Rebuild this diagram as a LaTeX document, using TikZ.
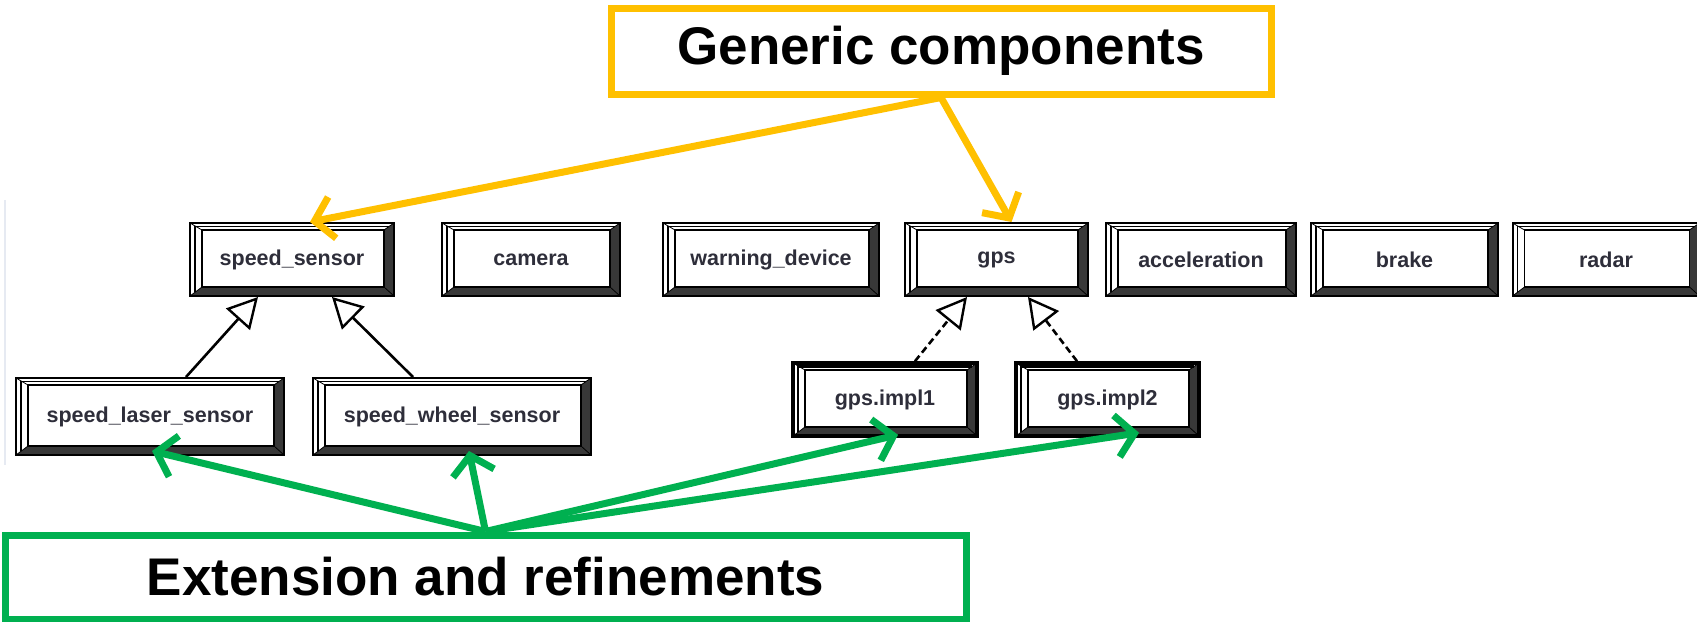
\documentclass[tikz,border=0pt]{standalone}
\usepackage{fontspec}
\setmainfont{Liberation Sans}
\usetikzlibrary{arrows.meta,calc}
\definecolor{ylw}{HTML}{FFC000}
\definecolor{grn}{HTML}{00B050}
\definecolor{bevdark}{HTML}{383838}
\definecolor{lbltext}{HTML}{2E2E3A}
\definecolor{framegray}{HTML}{E6EAF2}
\tikzset{
  bevel/.style={path picture={
      \coordinate (ppa) at (path picture bounding box.north west);
      \coordinate (ppb) at (path picture bounding box.south east);
      \fill[bevdark] (ppb) -- (ppb |- ppa) -- ($(ppb |- ppa)+(-10pt,-7pt)$) -- ($(ppb)+(-10pt,9pt)$) -- ($(ppa |- ppb)+(12pt,9pt)$) -- (ppa |- ppb) -- cycle;
      \draw[line width=#1*0.8] ($(ppa |- ppb)+(5pt,4pt)$) -- ($(ppa)+(5pt,-3.5pt)$) -- ($(ppb |- ppa)+(-5pt,-3.5pt)$);
      \draw[line width=0.8pt] (ppa) -- ($(ppa)+(12pt,-7pt)$) (ppb) -- ($(ppb)+(-10pt,9pt)$) (ppb |- ppa) -- ($(ppb |- ppa)+(-10pt,-7pt)$) (ppa |- ppb) -- ($(ppa |- ppb)+(12pt,9pt)$);
      \draw[line width=#1, fill=white] ($(ppa)+(12pt,-7pt)$) rectangle ($(ppb)+(-10pt,9pt)$);
  }},
  comp/.style={draw=black, line width=2pt, fill=white, inner sep=0pt, minimum height=73,
    font=\fontsize{21.5}{24}\selectfont\bfseries, text=lbltext, bevel=1.6pt},
  compbold/.style={comp, line width=3.6pt, bevel=2.8pt},
  callbox/.style={line width=7pt, fill=white, inner sep=0pt, font=\fontsize{53}{60}\selectfont\bfseries, text=black},
  callout/.style={line width=7pt, -{Straight Barb[length=18pt,width=42pt]}},
  genarrow/.style={line width=2.6pt, -{Triangle[length=30pt,width=32pt,fill=white,line width=2.4pt]}},
}
\begin{document}
\begin{tikzpicture}[x=1pt,y=-1pt]
\useasboundingbox (0,0) rectangle (1697,621);
\fill[white] (0,0) rectangle (1697,621);
\draw[framegray, line width=2pt] (5,200) -- (5,465);

% top row components
\node[comp, minimum width=204] (ss)  at (292,259.5) {speed\_sensor};
\node[comp, minimum width=178] (cam) at (531,259.5) {camera};
\node[comp, minimum width=216] (wd)  at (771,259.5) {warning\_device};
\node[comp, minimum width=183] (gps) at (996.5,259.5) {gps};
\node[comp, minimum width=190] (acc) at (1201,259.5) {acceleration};
\node[comp, minimum width=187] (brk) at (1404.5,259.5) {brake};
\node[comp, minimum width=187] (rad) at (1606,259.5) {radar};

% second row
\node[comp, minimum width=268, minimum height=77] (sls) at (150,416.5) {speed\_laser\_sensor};
\node[comp, minimum width=278, minimum height=77] (sws) at (452,416.5) {speed\_wheel\_sensor};
\node[compbold, minimum width=184] (gi1) at (885,399.5) {gps.impl1};
\node[compbold, minimum width=183] (gi2) at (1107.5,399.5) {gps.impl2};

% generalizations
\draw[genarrow] ($(sls.north)+(36,0)$) -- ($(ss.south)+(-34,0)$);
\draw[genarrow] ($(sws.north)+(-39,0)$) -- ($(ss.south)+(40,0)$);
\draw[genarrow, dash pattern=on 7pt off 4pt] ($(gi1.north)+(30,0)$) -- ($(gps.south)+(-29.5,0)$);
\draw[genarrow, dash pattern=on 7pt off 4pt] ($(gi2.north)+(-30.5,0)$) -- ($(gps.south)+(31.5,0)$);

% callout boxes
\node[callbox, draw=ylw, minimum width=660, minimum height=86] (gen) at (941,51) {Generic components};
\node[callbox, draw=grn, minimum width=961, minimum height=84] (ext) at (485.5,577) {Extension and refinements};

% callout arrows
\draw[callout, ylw] (gen.south) -- ($(ss.north)+(18,0)$);
\draw[callout, ylw] (gen.south) -- ($(gps.north)+(15,0)$);
\draw[callout, grn] (ext.north) -- ($(sls.south)+(2,-5)$);
\draw[callout, grn] (ext.north) -- ($(sws.south)+(17,-5)$);
\draw[callout, grn] (ext.north) -- ($(gi1.south)+(13,-3)$);
\draw[callout, grn] (ext.north) -- ($(gi2.south)+(31.5,-5)$);
\end{tikzpicture}
\end{document}
